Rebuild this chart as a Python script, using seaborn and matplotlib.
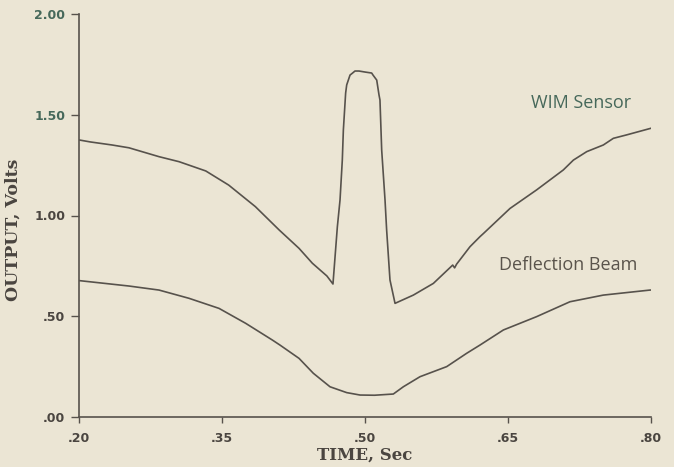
import numpy as np
import pandas as pd
import matplotlib
matplotlib.use("Agg")
import matplotlib.pyplot as plt
import seaborn as sns

# Time axis (s) and output (V) for the weigh-in-motion sensor trace
wim_time = [0.200, 0.212, 0.2346, 0.2524, 0.2839, 0.305, 0.333, 0.357, 0.385,
            0.410, 0.4308, 0.4448, 0.4600, 0.4664, 0.4710, 0.4738, 0.4762,
            0.4773, 0.4797, 0.4808, 0.4843, 0.4867, 0.4895, 0.4937, 0.500,
            0.5070, 0.5084, 0.5123, 0.5147, 0.5157, 0.5175, 0.5210, 0.5227,
            0.5262, 0.5315, 0.5507, 0.5717, 0.5920, 0.5940, 0.5960, 0.6101,
            0.6206, 0.6243, 0.6521, 0.680, 0.708, 0.7186, 0.7326, 0.750,
            0.7605, 0.7744, 0.800]
wim_volts = [1.375, 1.365, 1.350, 1.336, 1.292, 1.267, 1.221, 1.151, 1.044,
             0.928, 0.837, 0.763, 0.700, 0.660, 0.944, 1.077, 1.275,
             1.424, 1.608, 1.648, 1.697, 1.706, 1.717, 1.717, 1.712,
             1.707, 1.697, 1.672, 1.598, 1.573, 1.325, 1.077, 0.928,
             0.680, 0.564, 0.605, 0.663, 0.754, 0.740, 0.758, 0.845,
             0.895, 0.911, 1.035, 1.127, 1.226, 1.275, 1.317, 1.350,
             1.383, 1.400, 1.433]

# Deflection beam reference trace
beam_time = [0.200, 0.2524, 0.2839, 0.3154, 0.3469, 0.3748, 0.4028, 0.4108,
             0.4308, 0.4458, 0.4633, 0.4808, 0.4948, 0.5100, 0.5297, 0.5402,
             0.5577, 0.5857, 0.6066, 0.6206, 0.6452, 0.680, 0.715, 0.750,
             0.799, 0.800]
beam_volts = [0.677, 0.650, 0.630, 0.589, 0.539, 0.465, 0.382, 0.357,
              0.291, 0.217, 0.150, 0.121, 0.109, 0.108, 0.114, 0.150,
              0.200, 0.250, 0.316, 0.357, 0.432, 0.498, 0.572, 0.605,
              0.630, 0.630]

x_ticks = [0.20, 0.35, 0.50, 0.65, 0.80]
x_tick_labels = [".20", ".35", ".50", ".65", ".80"]
y_ticks = [0.0, 0.5, 1.0, 1.5, 2.0]
y_tick_labels = [".00", ".50", "1.00", "1.50", "2.00"]

paper = "#ebe5d4"
ink = "#57524c"
green_ink = "#46685a"

sns.set_style("ticks")
plt.rcParams["font.family"] = ["DejaVu Sans"]

fig = plt.figure(figsize=(6.74, 4.67), dpi=100, facecolor=paper)
ax = fig.add_axes([79 / 674, 50 / 467, 572 / 674, 403 / 467])
ax.set_facecolor(paper)

wim_df = pd.DataFrame({"time": wim_time, "volts": wim_volts})
beam_df = pd.DataFrame({"time": beam_time, "volts": beam_volts})

sns.lineplot(data=wim_df, x="time", y="volts", ax=ax, color=ink,
             linewidth=1.2, sort=False, estimator=None)
sns.lineplot(data=beam_df, x="time", y="volts", ax=ax, color=ink,
             linewidth=1.2, sort=False, estimator=None)

ax.set_xlim(0.20, 0.80)
ax.set_ylim(0.0, 2.0)
ax.set_xticks(x_ticks)
ax.set_xticklabels(x_tick_labels)
ax.set_yticks(y_ticks)
ax.set_yticklabels(y_tick_labels)

sns.despine(ax=ax)
for side in ("left", "bottom"):
    ax.spines[side].set_color(ink)
    ax.spines[side].set_linewidth(1.2)

ax.tick_params(axis="x", direction="out", length=4, width=1, color=ink,
               pad=7, labelsize=9, labelcolor="#4a4540")
ax.tick_params(axis="y", direction="out", length=6, width=1, color=ink,
               pad=4, labelsize=9, labelcolor="#4a4540")
for lab in ax.get_xticklabels() + ax.get_yticklabels():
    lab.set_fontweight("bold")
for lab in ax.get_yticklabels():
    if lab.get_text() in ("1.50", "2.00"):
        lab.set_color(green_ink)

ax.set_xlabel("TIME, Sec", family="DejaVu Serif", fontweight="bold",
              fontsize=12, color="#4a4540")
ax.set_ylabel("OUTPUT, Volts", family="DejaVu Serif", fontweight="bold",
              fontsize=12.5, color="#4a4540")
ax.xaxis.set_label_coords(0.5, -0.074)
ax.yaxis.set_label_coords(-0.1005, 0.464)

ax.text(0.7271, 1.558, "WIM Sensor", family="Open Sans", fontsize=13,
        color=green_ink, ha="center", va="center")
ax.text(0.7135, 0.754, "Deflection Beam", family="Open Sans", fontsize=13,
        color="#5a544c", ha="center", va="center")

fig.savefig("out.png", dpi=100, facecolor=paper)
